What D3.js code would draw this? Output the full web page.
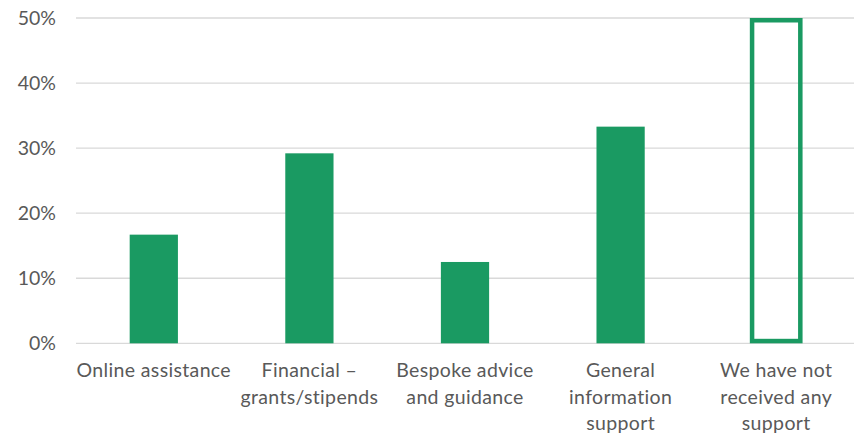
<!DOCTYPE html>
<html>
<head>
<meta charset="utf-8">
<script src="https://cdn.jsdelivr.net/npm/d3@7"></script>
<style>
  html, body { margin: 0; padding: 0; background: #ffffff; }
  svg { display: block; }
  text { font-family: Lato, "Open Sans", sans-serif; fill: #595959; }
</style>
</head>
<body>
<div id="chart"></div>
<script>
const categories = [
  ["Online assistance"],
  ["Financial \u2013", "grants/stipends"],
  ["Bespoke advice", "and guidance"],
  ["General", "information", "support"],
  ["We have not", "received any", "support"]
];
const values = [16.7, 29.2, 12.5, 33.3, 50];
const outlined = [false, false, false, false, true];
const yTicks = [0, 10, 20, 30, 40, 50];

const W = 860, H = 435;
const margin = { left: 76, right: 6, top: 18, bottom: 92 };
const green = "#1a9a62";
const fontSize = 19.5;

const svg = d3.select("#chart").append("svg")
  .attr("width", W).attr("height", H);

const x = d3.scaleBand()
  .domain(d3.range(categories.length))
  .range([margin.left, W - margin.right])
  .paddingInner(0.69)
  .paddingOuter(0.345);

const y = d3.scaleLinear()
  .domain([0, 50])
  .range([H - margin.bottom + 0.3, margin.top]);

// gridlines
svg.append("g").selectAll("line")
  .data(yTicks)
  .join("line")
  .attr("x1", margin.left)
  .attr("x2", W - margin.right)
  .attr("y1", d => y(d))
  .attr("y2", d => y(d))
  .attr("stroke", "#d9d9d9")
  .attr("stroke-width", 1.3);

// y axis labels
const yAxis = d3.axisLeft(y).tickValues(yTicks).tickFormat(d => d + "%").tickSize(0).tickPadding(0);
const gy = svg.append("g")
  .attr("transform", `translate(${margin.left - 20},0)`)
  .call(yAxis);
gy.select(".domain").remove();
gy.selectAll("text")
  .style("font-family", "Lato, 'Open Sans', sans-serif")
  .style("font-size", fontSize + "px")
  .attr("fill", "#595959");

// bars
const sw = 4.5;
svg.append("g").selectAll("rect")
  .data(values.map((v, i) => ({ v, i })))
  .join("rect")
  .attr("x", d => x(d.i))
  .attr("width", x.bandwidth())
  .attr("y", d => outlined[d.i] ? y(d.v) + sw / 2 : y(d.v))
  .attr("height", d => outlined[d.i] ? y(0) - y(d.v) - sw : y(0) - y(d.v))
  .attr("fill", d => outlined[d.i] ? "none" : green)
  .attr("stroke", d => outlined[d.i] ? green : "none")
  .attr("stroke-width", d => outlined[d.i] ? sw : 0);

// category labels
const lineH = 26.7;
const firstBase = 377;
const lbl = svg.append("g").selectAll("text")
  .data(categories)
  .join("text")
  .attr("text-anchor", "middle")
  .style("font-size", fontSize + "px")
  .style("letter-spacing", "0.35px")
  .attr("transform", (d, i) => `translate(${x(i) + x.bandwidth() / 2},${firstBase})`);
lbl.selectAll("tspan")
  .data(d => d)
  .join("tspan")
  .attr("x", 0)
  .attr("y", (d, j) => j * lineH)
  .text(d => d);
</script>
</body>
</html>
